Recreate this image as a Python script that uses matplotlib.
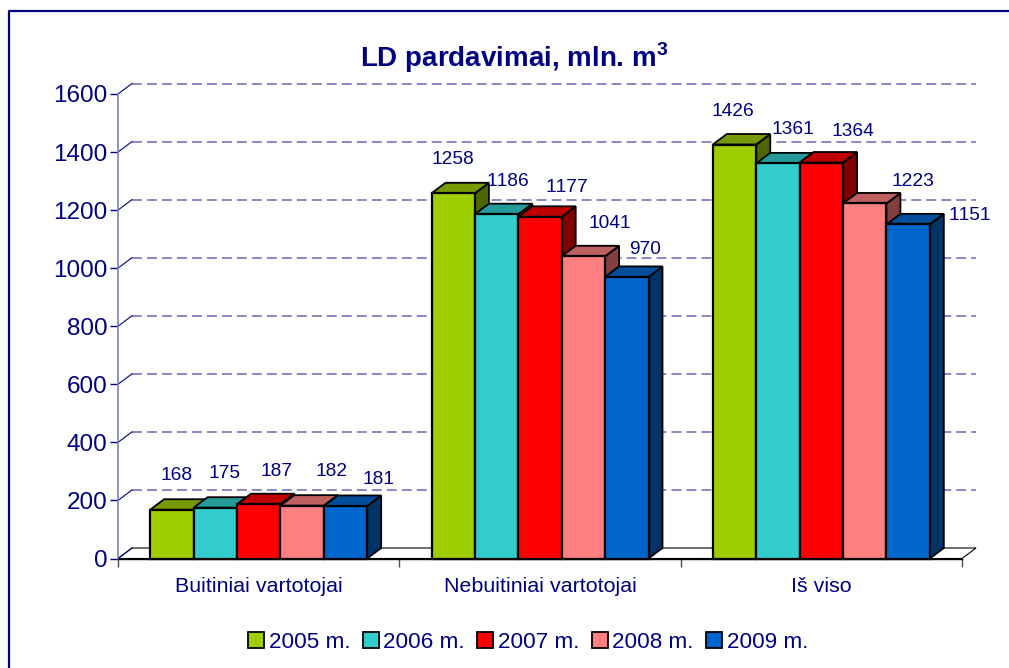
import matplotlib
matplotlib.use("Agg")
import matplotlib.pyplot as plt
from matplotlib.patches import Polygon, Patch
from matplotlib.lines import Line2D

plt.rcParams['font.family'] = ['Liberation Sans', 'DejaVu Sans']
plt.rcParams['mathtext.fontset'] = 'custom'
plt.rcParams['mathtext.bf'] = 'Liberation Sans:bold'
plt.rcParams['text.kerning_factor'] = 6

W, H = 1009, 668
NAVY = "#000080"
GRID = "#7f7fc4"

# Duomenys
categories = ["Buitiniai vartotojai", "Nebuitiniai vartotojai", "Iš viso"]
years = ["2005 m.", "2006 m.", "2007 m.", "2008 m.", "2009 m."]
v2005 = [168, 1258, 1426]
v2006 = [175, 1186, 1361]
v2007 = [187, 1177, 1364]
v2008 = [182, 1041, 1223]
v2009 = [181, 970, 1151]
series = [v2005, v2006, v2007, v2008, v2009]
yticks = [0, 200, 400, 600, 800, 1000, 1200, 1400, 1600]

front = ["#9fce00", "#33cccc", "#ff0000", "#ff8080", "#0066cc"]
top = ["#779a00", "#269999", "#bf0000", "#bf6060", "#004d99"]
side = ["#4f6700", "#1a6666", "#800000", "#804040", "#003366"]

fig = plt.figure(figsize=(W / 100, H / 100), dpi=100)
# remelis: tik virsus ir kaire
fig.add_artist(Line2D([8.5 / W, 8.5 / W, 1], [0, 1 - 11 / H, 1 - 11 / H], color=NAVY, lw=1.6))

# eixo = plano frontal do grafico 3D
ax = fig.add_axes([118 / W, 1 - 558.5 / H, 844 / W, 464.5 / H])
ax.set_xlim(0, 3)
ax.set_ylim(0, 1600)
ax.patch.set_alpha(0)
for s in ["top", "right"]:
    ax.spines[s].set_visible(False)
ax.spines["left"].set_color(GRID)
ax.spines["left"].set_linewidth(1.2)
ax.spines["bottom"].set_color("black")
ax.spines["bottom"].set_linewidth(1)

# profundidade em unidades de dados
dx = 14 * 3 / 844
dy = 10.5 * 1600 / 464.5
bar_w = 43.4 * 3 / 844
start = (1 - 5 * bar_w) / 2

# chao
ax.add_patch(Polygon([(0, 0), (dx, dy), (3 + dx, dy), (3, 0)], closed=True, fc="white", ec="black",
                     lw=0.8, clip_on=False, zorder=1))

# grades
for t in yticks[1:]:
    ax.plot([dx, 3 + dx], [t + dy, t + dy], color=GRID, lw=1.3, dashes=(5.5, 2.8), clip_on=False, zorder=1.5)
for t in yticks:
    ax.plot([0, dx], [t, t + dy], color=NAVY, lw=0.8, clip_on=False, zorder=1.5)

# barras
z = 2.0
for g in range(len(categories)):
    for i, vals in enumerate(series):
        x0 = g + start + i * bar_w
        x1 = x0 + bar_w
        v = vals[g]
        ax.add_patch(Polygon([(x1, 0), (x1 + dx, dy), (x1 + dx, v + dy), (x1, v)], closed=True,
                             fc=side[i], ec="black", lw=1.3, clip_on=False, zorder=z))
        ax.add_patch(Polygon([(x0, v), (x0 + dx, v + dy), (x1 + dx, v + dy), (x1, v)], closed=True,
                             fc=top[i], ec="black", lw=1.3, clip_on=False, zorder=z))
        ax.bar(x0, v, width=bar_w, align="edge", color=front[i], edgecolor="black", lw=1.6,
               clip_on=False, zorder=z + 0.1)
        z += 0.2

ax.set_yticks(yticks)
ax.tick_params(axis="y", labelsize=17.5, labelcolor=NAVY, color=NAVY, length=5.8, width=1, pad=2)
ax.set_xticks([0, 1, 2, 3])
ax.set_xticklabels([])
ax.tick_params(axis="x", which="major", color="#505050", length=6, width=1)
ax.set_xticks([0.5, 1.5, 2.5], minor=True)
ax.set_xticklabels(categories, minor=True)
ax.tick_params(axis="x", which="minor", length=0, labelsize=15.4, labelcolor=NAVY, pad=13)

# rotulos (posicao em pixels, como no original)
label_xy = [
    [(177, 475), (453, 159), (733, 112)],
    [(225, 474), (508, 181), (793, 130)],
    [(277, 471), (567, 187), (853, 132)],
    [(332, 471), (610, 224), (913, 181)],
    [(378, 479), (645, 249), (970, 216)],
]
for i, vals in enumerate(series):
    for g, v in enumerate(vals):
        px, py = label_xy[i][g]
        fig.text(px / W, 1 - py / H, str(v), color=NAVY, fontsize=13.8, ha="center", va="center", zorder=50)

fig.text(514 / W, 1 - 58 / H, r"LD pardavimai, mln. m$^{\mathbf{3}}$", color=NAVY, fontsize=20,
         fontweight="bold", ha="center", va="center")

handles = [Patch(fc=c, ec="black", lw=1.3) for c in front]
fig.legend(handles, years, loc="center", bbox_to_anchor=(528 / W, 1 - 642 / H), ncol=5, frameon=False,
           fontsize=16.2, labelcolor=NAVY, handlelength=0.72, handleheight=0.72, handletextpad=0.2,
           columnspacing=0.55, borderpad=0)

fig.savefig("out.png", dpi=100)
